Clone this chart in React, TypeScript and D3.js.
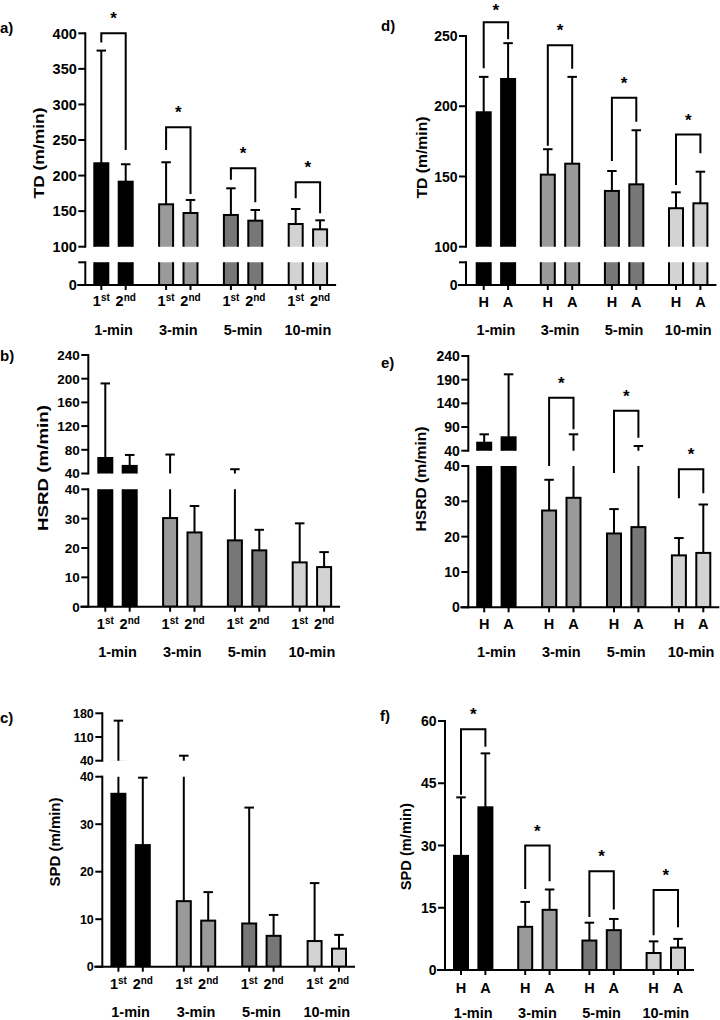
import React from "react";
import * as d3 from "d3";

const groups = ["1-min", "3-min", "5-min", "10-min"];
const halfSubLabels = [["1", "st"], ["2", "nd"]];
const venueSubLabels = [["H", ""], ["A", ""]];
const groupFills = ["#000000", "#9a9a9a", "#777777", "#d3d3d3"];

// a) TD, 1st vs 2nd half
const tdHalf1st = [217.3, 159.6, 144.6, 131.9];
const tdHalf1stUpper = [375.7, 218.7, 182.1, 153.0];
const tdHalf2nd = [191.4, 147.4, 136.6, 124.4];
const tdHalf2ndUpper = [215.9, 165.7, 151.6, 137.1];
const tdHalfBracketTop = [400, 268, 210.3, 190.6];
const tdHalfBracketLeft = [387, 236, 194, 168];
const tdHalfBracketRight = [236, 174, 162.5, 147];

// b) HSRD, 1st vs 2nd half
const hsrdHalf1st = [66.2, 30.2, 22.6, 15.1];
const hsrdHalf1stUpper = [192, 72, 47.2, 28.4];
const hsrdHalf2nd = [52.8, 25.3, 19.2, 13.5];
const hsrdHalf2ndUpper = [71.3, 34.3, 26.2, 18.6];

// c) SPD, 1st vs 2nd half
const spdHalf1st = [36.4, 13.8, 9.1, 5.4];
const spdHalf1stUpper = [158.3, 54.8, 33.5, 17.6];
const spdHalf2nd = [25.6, 9.7, 6.5, 3.8];
const spdHalf2ndUpper = [39.8, 15.7, 10.9, 6.7];

// d) TD, home vs away
const tdHome = [195.7, 151.3, 139.7, 127.4];
const tdHomeUpper = [220.9, 169.4, 153.9, 138.7];
const tdAway = [219.4, 159.1, 144.4, 130.9];
const tdAwayUpper = [244.9, 220.9, 182.9, 153.4];
const tdVenueBracketTop = [259.8, 243.4, 206.1, 179.8];
const tdVenueBracketLeft = [227, 171.9, 161, 143.9];
const tdVenueBracketRight = [247.7, 226.6, 189, 166.5];

// e) HSRD, home vs away
const hsrdHome = [56.9, 27.4, 20.9, 14.7];
const hsrdHomeUpper = [74.6, 36.1, 27.8, 19.6];
const hsrdAway = [68.3, 31.0, 22.7, 15.4];
const hsrdAwayUpper = [201.3, 74.6, 49.9, 29.1];
const hsrdVenueBracketTop = [null, 152, 124.5, 39.1];
const hsrdVenueBracketLeft = [null, 40, 38, 30.9];
const hsrdVenueBracketRight = [null, 85.2, 67.5, 32.3];

// f) SPD, home vs away
const spdHome = [27.5, 10.4, 7.1, 4.1];
const spdHomeUpper = [41.6, 16.4, 11.4, 6.9];
const spdAway = [39.2, 14.5, 9.6, 5.4];
const spdAwayUpper = [52.2, 19.4, 12.3, 7.5];
const spdVenueBracketTop = [58, 30, 23.8, 19.3];
const spdVenueBracketLeft = [42.2, 19.5, 12.8, 8.4];
const spdVenueBracketRight = [53.8, 21.4, 14.6, 10.3];

// tick values / labels
const tdHalfUpperTicks = [100, 150, 200, 250, 300, 350, 400];
const tdVenueUpperTicks = [100, 150, 200, 250];
const tdLowerTicks = [0, 100];
const tdLowerTickLabels = ["0", ""];
const hsrdHalfUpperTicks = [40, 80, 120, 160, 200, 240];
const hsrdVenueUpperTicks = [40, 90, 140, 190, 240];
const lowerTicks40 = [0, 10, 20, 30, 40];
const spdHalfUpperTicks = [40, 110, 180];
const spdVenueTicks = [0, 15, 30, 45, 60];

const FONT = "'Liberation Sans', Arial, Helvetica, sans-serif";
const BW = 14;
const CAP = 9.5;
const HALF = 12.2;
const SW = 2;

type Seg = { domain: [number, number]; range: [number, number]; ticks: number[]; labels?: string[] };
type Panel = {
  id: string;
  letter: string;
  letterPos: [number, number];
  yLabel: string;
  yLabelPos: [number, number, number];
  tickFont: number;
  axisX: number;
  first: number;
  step: number;
  segs: Seg[];
  means: number[][];
  uppers: number[][];
  brackets: { top: (number | null)[]; left: (number | null)[]; right: (number | null)[] } | null;
  sub: string[][];
  subY: number;
  groupY: number;
};

const panels: Panel[] = [
  {
    id: "pa", letter: "a)", letterPos: [0, 33], yLabel: "TD (m/min)", yLabelPos: [38.5, 153, 91],
    tickFont: 14.5, axisX: 85.3, first: 113.5, step: 64.8,
    segs: [
      { domain: [0, 100], range: [285, 262.3], ticks: tdLowerTicks, labels: tdLowerTickLabels },
      { domain: [100, 400], range: [246.7, 33.3], ticks: tdHalfUpperTicks },
    ],
    means: [tdHalf1st, tdHalf2nd], uppers: [tdHalf1stUpper, tdHalf2ndUpper],
    brackets: { top: tdHalfBracketTop, left: tdHalfBracketLeft, right: tdHalfBracketRight },
    sub: halfSubLabels, subY: 306, groupY: 335,
  },
  {
    id: "pb", letter: "b)", letterPos: [0, 361], yLabel: "HSRD (m/min)", yLabelPos: [43, 468, 126],
    tickFont: 13.5, axisX: 88.3, first: 117.5, step: 64.8,
    segs: [
      { domain: [0, 40], range: [606.7, 489.3], ticks: lowerTicks40 },
      { domain: [40, 240], range: [473.5, 355], ticks: hsrdHalfUpperTicks },
    ],
    means: [hsrdHalf1st, hsrdHalf2nd], uppers: [hsrdHalf1stUpper, hsrdHalf2ndUpper],
    brackets: null,
    sub: halfSubLabels, subY: 628.5, groupY: 656.5,
  },
  {
    id: "pc", letter: "c)", letterPos: [0, 722.5], yLabel: "SPD (m/min)", yLabelPos: [55, 842, 89],
    tickFont: 12.5, axisX: 102.3, first: 130.6, step: 65.4,
    segs: [
      { domain: [0, 40], range: [966.7, 776.7], ticks: lowerTicks40 },
      { domain: [40, 180], range: [760.7, 713.3], ticks: spdHalfUpperTicks },
    ],
    means: [spdHalf1st, spdHalf2nd], uppers: [spdHalf1stUpper, spdHalf2ndUpper],
    brackets: null,
    sub: halfSubLabels, subY: 988.5, groupY: 1016.5,
  },
  {
    id: "pd", letter: "d)", letterPos: [381, 30.5], yLabel: "TD (m/min)", yLabelPos: [422, 157.5, 82],
    tickFont: 14, axisX: 466, first: 495.9, step: 64.1,
    segs: [
      { domain: [0, 100], range: [285, 262.3], ticks: tdLowerTicks, labels: tdLowerTickLabels },
      { domain: [100, 250], range: [246.7, 36], ticks: tdVenueUpperTicks },
    ],
    means: [tdHome, tdAway], uppers: [tdHomeUpper, tdAwayUpper],
    brackets: { top: tdVenueBracketTop, left: tdVenueBracketLeft, right: tdVenueBracketRight },
    sub: venueSubLabels, subY: 306.5, groupY: 335,
  },
  {
    id: "pe", letter: "e)", letterPos: [381, 367.5], yLabel: "HSRD (m/min)", yLabelPos: [421, 479, 105],
    tickFont: 14, axisX: 468.3, first: 496.4, step: 64.9,
    segs: [
      { domain: [0, 40], range: [607.3, 466], ticks: lowerTicks40 },
      { domain: [40, 240], range: [450.7, 356], ticks: hsrdVenueUpperTicks },
    ],
    means: [hsrdHome, hsrdAway], uppers: [hsrdHomeUpper, hsrdAwayUpper],
    brackets: { top: hsrdVenueBracketTop, left: hsrdVenueBracketLeft, right: hsrdVenueBracketRight },
    sub: venueSubLabels, subY: 629.3, groupY: 657.3,
  },
  {
    id: "pf", letter: "f)", letterPos: [380, 720.5], yLabel: "SPD (m/min)", yLabelPos: [406, 846.7, 87],
    tickFont: 14, axisX: 445, first: 473.2, step: 64.2,
    segs: [{ domain: [0, 60], range: [970, 721], ticks: spdVenueTicks }],
    means: [spdHome, spdAway], uppers: [spdHomeUpper, spdAwayUpper],
    brackets: { top: spdVenueBracketTop, left: spdVenueBracketLeft, right: spdVenueBracketRight },
    sub: venueSubLabels, subY: 993.3, groupY: 1018.3,
  },
];

function PanelView({ p }: { p: Panel }) {
  const segs = p.segs.map((s) => ({ ...s, y: d3.scaleLinear().domain(s.domain).range(s.range) }));
  const segIndexOf = (v: number) => {
    for (let k = 0; k < segs.length; k++) if (v <= segs[k].domain[1]) return k;
    return segs.length - 1;
  };
  const ymap = (v: number) => segs[segIndexOf(v)].y(v);
  const gx = d3
    .scaleBand<string>()
    .domain(groups)
    .range([p.first - p.step / 2, p.first + p.step * 3.5])
    .paddingInner(0)
    .paddingOuter(0);
  const ix = d3.scaleBand<string>().domain(["0", "1"]).range([-2 * HALF, 2 * HALF]);
  const gc = (gi: number) => (gx(groups[gi]) as number) + gx.bandwidth() / 2;
  const cx = (gi: number, si: number) => gc(gi) + (ix(String(si)) as number) + ix.bandwidth() / 2;
  const y0 = segs[0].y(0);
  const xEnd = cx(3, 1) + 16;

  return (
    <g>
      <defs>
        {segs.map((s, k) => (
          <clipPath id={`${p.id}-clip${k}`} key={k}>
            <rect x={p.axisX + 1} y={s.range[1]} width={720 - p.axisX} height={s.range[0] - s.range[1]} />
          </clipPath>
        ))}
      </defs>
      {segs.map((s, k) => (
        <g key={k} clipPath={`url(#${p.id}-clip${k})`}>
          {groups.map((g, gi) =>
            [0, 1].map((si) => {
              const x = cx(gi, si);
              const m = p.means[si][gi];
              const u = p.uppers[si][gi];
              const reaches = k === 0 || u > s.domain[0];
              if (!reaches) return null;
              return (
                <g key={`${gi}-${si}`}>
                  <rect
                    x={x - BW / 2}
                    width={BW}
                    y={s.y(m)}
                    height={s.y(0) - s.y(m)}
                    fill={groupFills[gi]}
                    stroke="#000"
                    strokeWidth={SW}
                  />
                  <line x1={x} x2={x} y1={s.y(m)} y2={s.y(u)} stroke="#000" strokeWidth={SW} />
                </g>
              );
            })
          )}
        </g>
      ))}
      {/* error caps, drawn in the segment that holds them */}
      {groups.map((g, gi) =>
        [0, 1].map((si) => {
          const x = cx(gi, si);
          const u = p.uppers[si][gi];
          const yy = ymap(u);
          return (
            <line key={`cap${gi}${si}`} x1={x - CAP / 2} x2={x + CAP / 2} y1={yy} y2={yy} stroke="#000" strokeWidth={SW} />
          );
        })
      )}
      {/* y axis segments */}
      {segs.map((s, k) => (
        <g key={`ax${k}`}>
          <line x1={p.axisX} x2={p.axisX} y1={s.range[0]} y2={s.range[1]} stroke="#000" strokeWidth={SW} strokeLinecap="square" />
          {s.ticks.map((t, ti) => (
            <g key={ti}>
              <line x1={p.axisX - 7} x2={p.axisX} y1={s.y(t)} y2={s.y(t)} stroke="#000" strokeWidth={SW} />
              <text
                x={p.axisX - 8.5}
                y={s.y(t)}
                dy="0.36em"
                textAnchor="end"
                fontSize={p.tickFont}
                fontWeight="bold"
                fontFamily={FONT}
              >
                {s.labels ? s.labels[ti] : String(t)}
              </text>
            </g>
          ))}
        </g>
      ))}
      {/* x axis */}
      <line x1={p.axisX - 8} x2={xEnd} y1={y0} y2={y0} stroke="#000" strokeWidth={SW} />
      {groups.map((g, gi) =>
        [0, 1].map((si) => (
          <line key={`xt${gi}${si}`} x1={cx(gi, si)} x2={cx(gi, si)} y1={y0} y2={y0 + 5} stroke="#000" strokeWidth={SW} />
        ))
      )}
      {groups.map((g, gi) =>
        [0, 1].map((si) => (
          <text
            key={`sl${gi}${si}`}
            x={cx(gi, si)}
            y={p.subY}
            textAnchor="middle"
            fontSize={14.5}
            fontWeight="bold"
            fontFamily={FONT}
          >
            <tspan>{p.sub[si][0]}</tspan>
            {p.sub[si][1] ? (
              <tspan fontSize={10} baselineShift="super">
                {p.sub[si][1]}
              </tspan>
            ) : null}
          </text>
        ))
      )}
      {groups.map((g, gi) => (
        <text key={`gl${gi}`} x={gc(gi)} y={p.groupY} textAnchor="middle" fontSize={14.5} fontWeight="bold" fontFamily={FONT}>
          {g}
        </text>
      ))}
      {/* brackets */}
      {p.brackets &&
        groups.map((g, gi) => {
          const b = p.brackets!;
          const top = b.top[gi];
          const l = b.left[gi];
          const r = b.right[gi];
          if (top == null || l == null || r == null) return null;
          const xl = cx(gi, 0);
          const xr = cx(gi, 1);
          const yt = ymap(top);
          return (
            <g key={`br${gi}`}>
              <path
                d={`M${xl},${ymap(l)}V${yt}H${xr}V${ymap(r)}`}
                fill="none"
                stroke="#000"
                strokeWidth={SW}
              />
              <text x={(xl + xr) / 2} y={Math.max(yt - 9, 16)} textAnchor="middle" fontSize={17} fontWeight="bold" fontFamily={FONT}>
                *
              </text>
            </g>
          );
        })}
      {/* y label */}
      <text
        transform={`translate(${p.yLabelPos[0]},${p.yLabelPos[1]}) rotate(-90)`}
        textAnchor="middle"
        dy="0.35em"
        fontSize={15}
        fontWeight="bold"
        fontFamily={FONT}
        textLength={p.yLabelPos[2]}
        lengthAdjust="spacingAndGlyphs"
      >
        {p.yLabel}
      </text>
      <text x={p.letterPos[0]} y={p.letterPos[1]} fontSize={15} fontWeight="bold" fontFamily={FONT}>
        {p.letter}
      </text>
    </g>
  );
}

export default function App() {
  return (
    <div style={{ position: "absolute", left: 0, top: 0, width: 720, height: 1020, background: "#fff" }}>
      <svg width={720} height={1020} style={{ display: "block" }}>
        <rect width={720} height={1020} fill="#fff" />
        {panels.map((p) => (
          <PanelView key={p.id} p={p} />
        ))}
      </svg>
    </div>
  );
}
